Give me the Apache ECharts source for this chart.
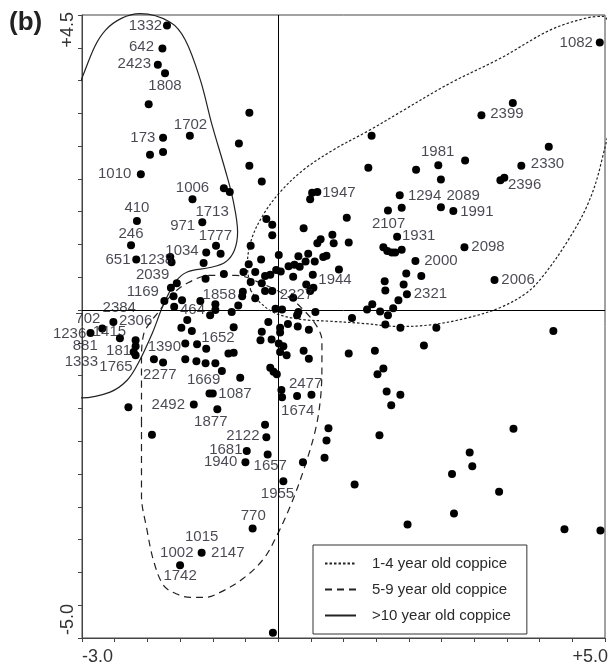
<!DOCTYPE html>
<html><head><meta charset="utf-8">
<script src="https://cdn.jsdelivr.net/npm/echarts@6/dist/echarts.min.js"></script>
<style>html,body{margin:0;padding:0;background:#fff}#c{width:612px;height:665px}</style>
</head><body><div id="c"></div>
<script>
// ---- data ----
const points = [
[-1.70,4.34],[-1.77,3.99],[-1.84,3.74],[-1.73,3.61],[-1.98,3.14],[-1.35,2.66],[-1.76,2.63],[-1.96,2.37],[-1.76,2.41],
[-0.44,3.01],[-0.60,2.54],[-0.44,2.20],[1.43,2.66],[1.38,2.17],
[4.92,4.08],[3.59,3.16],[3.11,2.97],[4.14,2.49],[2.45,2.21],[2.86,2.28],[3.72,2.20],[2.11,2.14],
[2.49,1.99],[3.40,1.98],[3.46,2.02],[1.86,1.75],[1.89,1.56],[2.49,1.57],[2.68,1.51],[1.89,0.92],[2.85,0.96],[2.10,0.75],[1.96,0.56],[2.19,0.52],[3.31,0.46],[1.97,0.24],[1.84,0.15],[1.87,-0.27],[2.42,-0.27],[4.21,-0.32],
[-0.25,1.96],[-0.83,1.86],[-0.74,1.80],[0.52,1.79],[0.60,1.80],[0.49,1.69],[1.68,1.52],[1.05,1.41],[-0.18,1.39],[-0.09,1.30],[0.39,1.25],[-0.09,1.14],[0.83,1.15],[0.65,1.08],[0.60,1.02],[0.85,1.02],[1.08,1.03],[1.82,1.12],[-0.42,0.98],[1.61,0.96],[1.67,0.90],[1.74,0.88],[1.79,0.88],
[-0.95,0.98],[-1.10,0.88],[-0.88,0.86],[0.01,0.84],[0.31,0.82],[0.46,0.86],[0.69,0.81],[0.74,0.83],[-0.26,0.77],[0.42,0.74],[0.56,0.74],[-1.14,0.72],[-0.45,0.70],[0.16,0.67],[0.25,0.69],[0.33,0.66],[0.93,0.62],[-0.83,0.55],[-0.53,0.58],[-1.11,0.48],[-0.35,0.58],[-0.03,0.61],[0.04,0.59],[-0.20,0.52],[-0.12,0.54],[0.23,0.51],[0.53,0.54],[-0.42,0.43],[-0.25,0.41],[0.43,0.39],[0.54,0.34],[1.63,0.44],[-0.20,0.29],[-0.09,0.29],[-0.54,0.28],[-0.55,0.21],[0.49,0.29],[1.64,0.30],[1.92,0.39],[-0.35,0.18],[0.23,0.19],[-0.61,0.07],[-0.71,-0.03],[-1.04,-0.08],[-0.96,0.09],[-0.96,0.00],[-1.19,0.14],[-0.04,0.02],[0.06,0.01],[0.31,-0.03],[0.29,-0.08],[0.57,-0.03],[1.36,0.01],[1.44,0.09],[1.56,-0.02],[1.68,-0.08],[1.76,0.03],[1.13,-0.12],[-0.15,-0.18],[0.03,-0.27],[0.15,-0.21],[0.30,-0.25],[0.47,-0.30],[-0.25,-0.33],[-0.68,-0.26],[1.64,-0.22],[0.03,-0.34],
[-2.10,2.07],[-1.31,1.69],[-2.16,1.36],[-1.16,1.34],[-2.25,0.99],[-2.17,0.77],[-1.65,0.81],[-1.63,0.73],[-1.55,0.41],[-1.64,0.34],[-1.60,0.21],[-1.47,0.15],[-1.74,0.14],[-1.59,0.05],[-1.39,-0.15],[-1.32,-0.32],[-1.48,-0.27],
[-2.52,-0.18],[-2.69,-0.28],[-2.87,-0.35],[-2.42,-0.43],[-2.18,-0.46],[-2.18,-0.55],[-2.21,-0.64],[-2.18,-0.69],
[-1.42,-0.51],[-1.24,-0.52],[-1.90,-0.75],[-1.76,-0.80],[-1.42,-0.75],[-1.25,-0.78],[-1.11,-0.81],[-0.96,-0.81],[-1.05,-1.27],[-1.29,-1.44],[-2.29,-1.48],[-1.93,-1.90],
[-1.10,-0.59],[-0.27,-0.46],[-0.10,-0.45],[0.01,-0.51],[0.08,-0.55],[0.03,-0.64],[0.13,-0.69],[0.39,-0.62],[0.47,-0.74],[1.08,-0.66],[1.48,-0.62],[-0.76,-0.66],[-0.68,-0.65],[-0.86,-0.93],[-0.12,-0.88],[-0.07,-0.94],[-0.02,-0.98],[1.61,-0.89],[1.52,-0.98],[-0.58,-1.03],[0.05,-1.22],[1.66,-1.24],[1.87,-1.29],[-1.00,-1.27],[0.06,-1.33],[0.29,-1.31],[0.51,-1.29],[1.73,-1.45],[-0.93,-1.51],[-0.20,-1.75],[0.77,-1.80],[-0.18,-1.94],[0.74,-1.99],[1.55,-1.91],[-0.48,-2.15],[-0.16,-2.20],[0.71,-2.25],[-0.50,-2.32],[0.38,-2.32],[0.08,-2.61],[1.17,-2.66],
[2.23,-0.54],[3.60,-1.81],[2.93,-2.17],[2.97,-2.38],[2.66,-2.50],[3.38,-2.77],
[-0.39,-3.33],[-1.17,-3.70],[-1.50,-3.89],[-0.08,-4.92],[1.98,-3.27],[2.69,-3.10],[4.38,-3.34],[4.93,-3.36]
];

const pointLabels = [
[-2.03,4.34,'1332'],[-2.09,4.01,'642'],[-2.20,3.75,'2423'],[-1.73,3.42,'1808'],[-1.34,2.82,'1702'],[-2.07,2.63,'173'],
[-2.50,2.07,'1010'],[-1.31,1.86,'1006'],[-2.16,1.56,'410'],[-1.01,1.50,'1713'],[-1.46,1.28,'971'],[-2.25,1.17,'246'],
[-0.96,1.13,'1777'],[-1.47,0.90,'1034'],[-2.45,0.76,'651'],[-1.86,0.76,'1238'],[-1.92,0.54,'2039'],[-2.07,0.28,'1169'],
[-2.43,0.03,'2384'],[-1.31,0.00,'464'],[-0.90,0.23,'1858'],[-2.91,-0.13,'702'],[-2.18,-0.17,'2306'],[-3.19,-0.36,'1236'],
[-2.58,-0.33,'1415'],[-2.95,-0.55,'881'],[-2.44,-0.62,'181'],[-3.01,-0.79,'1333'],[-2.48,-0.86,'1765'],[-1.74,-0.56,'1390'],
[-1.81,-0.98,'2277'],[-0.92,-0.43,'1652'],[-1.14,-1.07,'1669'],[-0.66,-1.27,'1087'],[-1.68,-1.45,'2492'],[-1.03,-1.70,'1877'],
[0.42,-1.12,'2477'],[0.30,-1.53,'1674'],[-0.54,-1.92,'2122'],[-0.80,-2.13,'1681'],[-0.88,-2.32,'1940'],[-0.12,-2.38,'1657'],
[-0.01,-2.80,'1955'],[-0.38,-3.13,'770'],[-1.17,-3.46,'1015'],[-0.77,-3.70,'2147'],[-1.55,-3.70,'1002'],[-1.50,-4.05,'1742'],
[0.93,1.79,'1947'],[1.69,1.32,'2107'],[0.87,0.46,'1944'],[0.28,0.24,'2327'],[4.56,4.08,'1082'],[3.50,2.99,'2399'],
[2.44,2.41,'1981'],[4.12,2.23,'2330'],[3.77,1.91,'2396'],[2.24,1.74,'1294'],[2.83,1.74,'2089'],[3.04,1.50,'1991'],
[2.15,1.13,'1931'],[3.21,0.96,'2098'],[2.49,0.75,'2000'],[3.67,0.46,'2006'],[2.33,0.25,'2321']
];

const coppice1to4 = [
[-0.42,0.30],[-0.47,0.69],[-0.41,1.07],[-0.23,1.45],[0.03,1.80],[0.39,2.14],[0.84,2.44],[1.41,2.75],[1.87,3.02],
[2.63,3.46],[3.40,3.84],[4.16,4.27],[4.70,4.45],[4.97,4.48],[5.08,4.27],[5.11,3.20],[4.93,2.20],[4.73,1.60],
[4.42,1.04],[4.06,0.53],[3.81,0.27],[3.40,0.04],[2.89,-0.12],[2.37,-0.22],[1.87,-0.25],[1.26,-0.20],[0.80,-0.17],
[0.34,-0.14],[-0.04,-0.05],[-0.27,0.11],[-0.42,0.30]
];

const coppice5to9 = [
[-2.09,-1.68],[-2.09,-2.83],[-2.01,-3.33],[-1.90,-3.84],[-1.75,-4.20],[-1.55,-4.33],[-1.34,-4.38],[-1.11,-4.38],
[-0.88,-4.30],[-0.53,-4.09],[-0.22,-3.79],[-0.02,-3.44],[0.19,-2.98],[0.39,-2.44],[0.57,-1.83],[0.65,-1.33],
[0.67,-0.82],[0.67,-0.46],[0.60,-0.26],[0.42,-0.03],[0.16,0.20],[-0.24,0.40],[-0.65,0.53],[-1.04,0.53],
[-1.39,0.41],[-1.65,0.21],[-1.83,-0.03],[-1.96,-0.19],[-2.06,-0.38],[-2.09,-0.77],[-2.09,-1.68]
];

const coppice10plus = [
[-3.44,1.19],[-3.39,1.71],[-3.33,2.18],[-3.18,2.97],[-3.00,3.54],[-2.64,4.27],[-2.11,4.52],[-1.65,4.39],
[-1.42,4.12],[-1.19,3.51],[-1.01,2.82],[-0.81,2.14],[-0.69,1.68],[-0.62,1.19],[-0.67,0.91],[-0.81,0.73],
[-1.04,0.65],[-1.39,0.58],[-1.57,0.43],[-1.76,0.07],[-1.92,-0.34],[-2.14,-0.81],[-2.31,-1.07],[-2.57,-1.25],
[-3.03,-1.34],[-3.53,-1.22],[-3.90,-1.02],[-4.07,-0.73],[-3.94,-0.34],[-3.64,0.07],[-3.49,0.61],[-3.44,1.19]
];

const seriesNames = ['1-4 year old coppice', '5-9 year old coppice', '>10 year old coppice'];
const xEndLabels = ['-3.0', '+5.0'];
const yEndLabels = ['+4.5', '-5.0'];

// ---- chart ----
const FONT = '"Liberation Sans", Arial, Helvetica, sans-serif';
const INK = '#222';
const chart = echarts.init(document.getElementById('c'), null, {renderer: 'canvas'});

function curveSeries(name, data, dash) {
  return {
    name: name, type: 'line', data: data, smooth: 0.35, symbol: 'none', showSymbol: false,
    clip: false, silent: true, z: 2, color: INK,
    itemStyle: {color: INK},
    lineStyle: {color: INK, width: 1.2, type: dash}
  };
}

const option = {
  animation: false,
  backgroundColor: '#fff',
  color: [INK, INK, INK, '#000', '#000'],
  grid: {left: 82, right: 7, top: 15, bottom: 27, show: true, borderColor: '#444', borderWidth: 1},
  xAxis: {
    type: 'value', min: -3, max: 5, interval: 0.5,
    axisLine: {onZero: false, lineStyle: {color: '#444'}},
    axisTick: {length: 4, lineStyle: {color: '#444'}},
    axisLabel: {show: false}, splitLine: {show: false}
  },
  yAxis: {
    type: 'value', min: -5, max: 4.5, interval: 0.5,
    axisLine: {onZero: false, lineStyle: {color: '#444'}},
    axisTick: {length: 4, lineStyle: {color: '#444'}},
    axisLabel: {show: false}, splitLine: {show: false}
  },
  legend: {
    data: seriesNames, orient: 'vertical', left: 313, top: 545,
    itemWidth: 31, itemHeight: 14, itemGap: 11, padding: [11, 16, 11, 11],
    borderColor: '#333', borderWidth: 1, backgroundColor: '#fff', selectedMode: false,
    itemStyle: {opacity: 0, borderWidth: 0},
    textStyle: {fontFamily: FONT, fontSize: 15, color: '#2a2a2a', padding: [0, 0, 0, 11]}
  },
  series: [
    curveSeries(seriesNames[0], coppice1to4, [2.5, 2]),
    curveSeries(seriesNames[1], coppice5to9, [7, 5]),
    curveSeries(seriesNames[2], coppice10plus, 'solid'),
    {
      type: 'scatter', data: points, symbolSize: 8, clip: false, z: 3,
      itemStyle: {color: '#000', opacity: 1},
      markLine: {
        silent: true, symbol: 'none', label: {show: false},
        lineStyle: {color: '#000', type: 'solid', width: 1},
        data: [{xAxis: 0}, {yAxis: 0}]
      }
    },
    {
      type: 'scatter', data: pointLabels, symbolSize: 0, clip: false, z: 4, silent: true,
      label: {
        show: true, position: 'inside', formatter: p => p.data[2],
        fontFamily: FONT, fontSize: 15, color: '#1a1a28'
      }
    }
  ],
  graphic: [
    {type: 'text', left: 9, top: 10, style: {text: '(b)', font: 'bold 26px ' + FONT, fill: '#222'}},
    {type: 'text', x: 82, y: 648, style: {text: xEndLabels[0], font: '18px ' + FONT, fill: '#333', align: 'left', textAlign: 'left', verticalAlign: 'top', textVerticalAlign: 'top'}},
    {type: 'text', x: 608, y: 648, style: {text: xEndLabels[1], font: '18px ' + FONT, fill: '#333', align: 'right', textAlign: 'right', verticalAlign: 'top', textVerticalAlign: 'top'}},
    {type: 'text', x: 68, y: 12, rotation: Math.PI / 2, style: {text: yEndLabels[0], font: '18px ' + FONT, fill: '#333', align: 'right', textAlign: 'right', verticalAlign: 'middle', textVerticalAlign: 'middle'}},
    {type: 'text', x: 68, y: 635, rotation: Math.PI / 2, style: {text: yEndLabels[1], font: '18px ' + FONT, fill: '#333', align: 'left', textAlign: 'left', verticalAlign: 'middle', textVerticalAlign: 'middle'}}
  ]
};
chart.setOption(option);
</script>
</body></html>
